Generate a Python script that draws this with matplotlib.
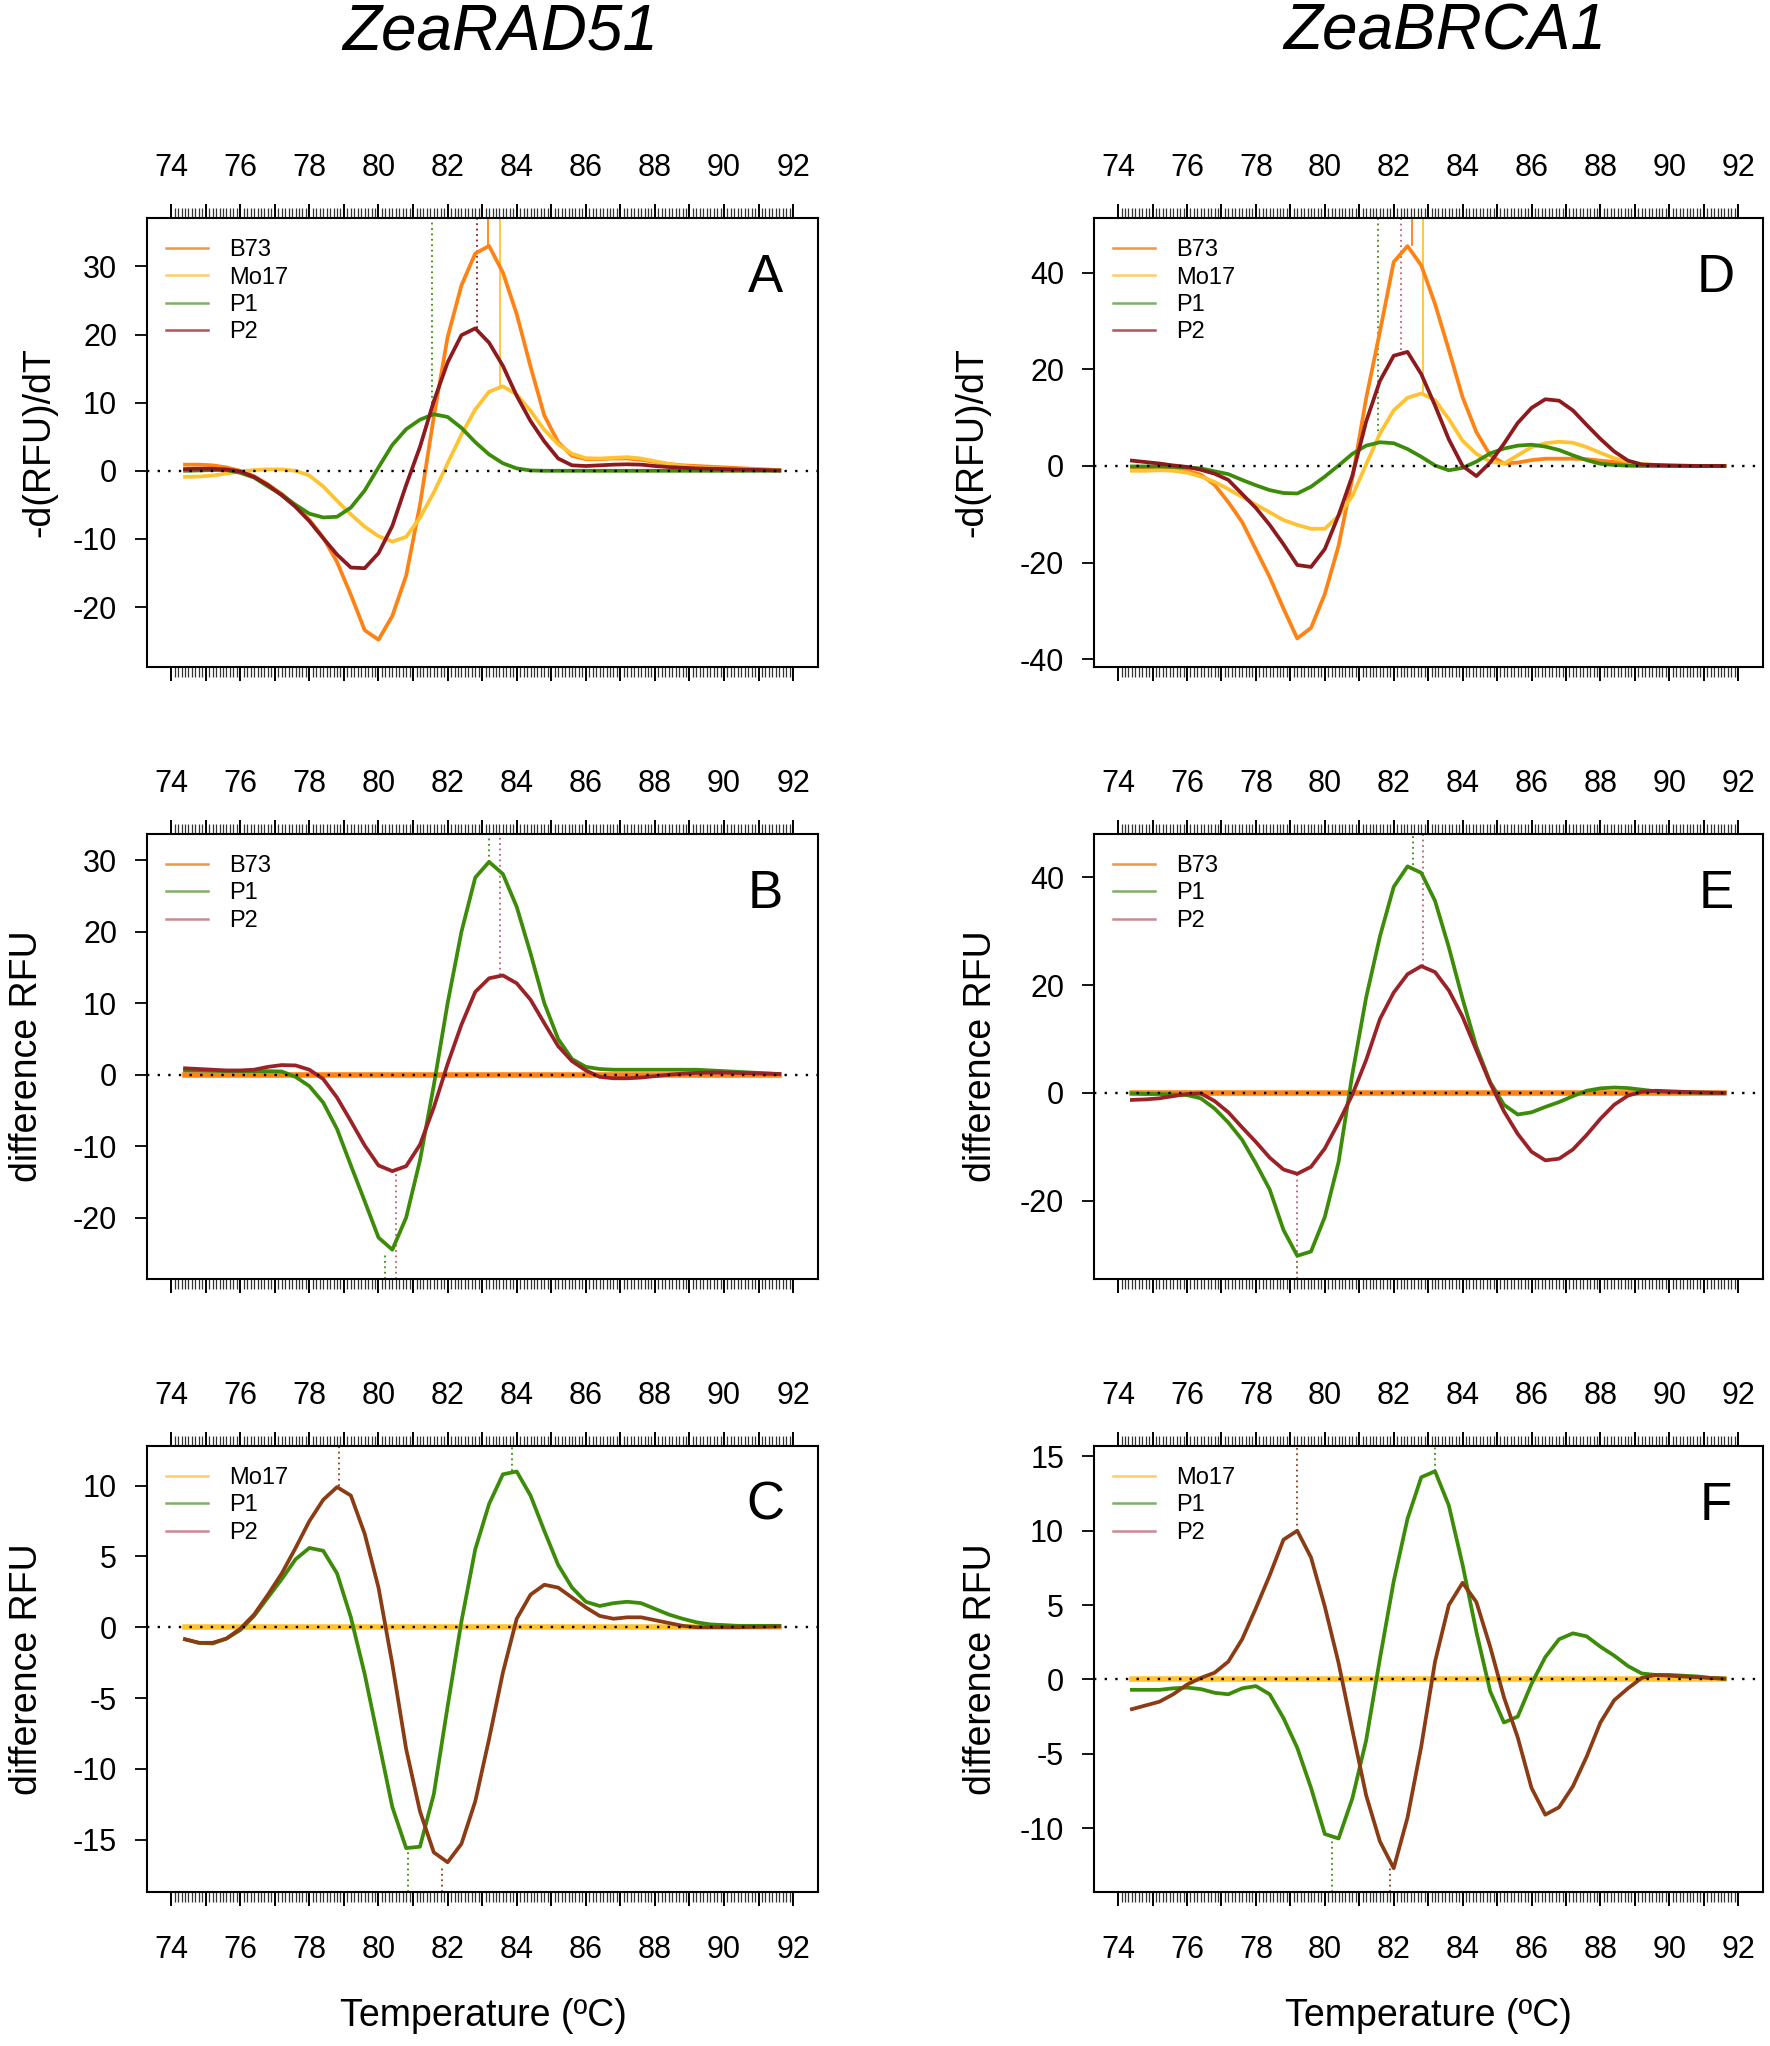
import numpy as np
import matplotlib.pyplot as plt
from matplotlib.lines import Line2D
from matplotlib.ticker import FixedLocator, FuncFormatter

plt.rcParams['font.family'] = ['Liberation Sans', 'DejaVu Sans']
plt.rcParams['axes.unicode_minus'] = False

# temperature grid (ºC)
temp = np.round(np.arange(74.4, 91.65, 0.4), 1)

# ---- ZeaRAD51 ----
# A: -d(RFU)/dT
a_b73 = [0.9, 0.9, 0.8, 0.5, 0.0, -0.8, -2.0, -3.4, -5.2, -7.2, -9.8, -13.4, -18.2, -23.4, -24.8,
         -21.3, -15.4, -5.0, 7.9, 19.6, 27.2, 31.9, 33.0, 29.1, 23.0, 15.3, 8.1, 4.2, 2.2, 1.7,
         1.7, 1.8, 1.8, 1.6, 1.3, 1.0, 0.8, 0.7, 0.6, 0.5, 0.4, 0.3, 0.2, 0.1]
a_mo17 = [-0.9, -0.85, -0.7, -0.4, -0.1, 0.1, 0.2, 0.2, 0.0, -0.7, -2.3, -4.4, -6.4, -8.2, -9.6,
          -10.4, -9.7, -6.9, -3.2, 1.1, 5.3, 9.0, 11.6, 12.4, 11.2, 8.8, 6.0, 3.9, 2.5, 1.85,
          1.8, 1.9, 2.0, 1.8, 1.4, 1.0, 0.7, 0.5, 0.4, 0.3, 0.25, 0.2, 0.15, 0.1]
a_p1 = [0.0, 0.05, 0.1, 0.1, -0.3, -1.0, -2.3, -3.5, -5.0, -6.3, -6.85, -6.75, -5.4, -2.9, 0.5,
        3.8, 6.1, 7.5, 8.3, 7.9, 6.3, 4.2, 2.4, 1.1, 0.35, 0.05, 0.0, 0.0, 0.0, 0.0,
        0.0, 0.0, 0.0, 0.0, 0.0, 0.0, 0.0, 0.0, 0.0, 0.0, 0.0, 0.0, 0.0, 0.0]
a_p2 = [0.25, 0.3, 0.3, 0.2, -0.1, -0.9, -2.1, -3.6, -5.3, -7.4, -9.9, -12.3, -14.2, -14.3, -12.1,
        -8.1, -2.1, 3.5, 10.2, 15.9, 19.9, 20.9, 18.8, 15.4, 11.0, 7.3, 4.3, 1.8, 0.8, 0.7,
        0.8, 0.9, 0.95, 0.9, 0.7, 0.55, 0.45, 0.35, 0.3, 0.25, 0.2, 0.15, 0.1, 0.05]
# B: difference RFU vs B73 (B73 minus itself is flat)
b_b73 = [0.0, 0.0, 0.0, 0.0, 0.0, 0.0, 0.0, 0.0, 0.0, 0.0, 0.0, 0.0, 0.0, 0.0, 0.0,
         0.0, 0.0, 0.0, 0.0, 0.0, 0.0, 0.0, 0.0, 0.0, 0.0, 0.0, 0.0, 0.0, 0.0, 0.0,
         0.0, 0.0, 0.0, 0.0, 0.0, 0.0, 0.0, 0.0, 0.0, 0.0, 0.0, 0.0, 0.0, 0.0]
b_p1 = [0.6, 0.6, 0.55, 0.5, 0.5, 0.5, 0.5, 0.45, -0.3, -1.6, -3.9, -7.6, -12.7, -17.7, -22.8,
        -24.5, -20.0, -12.0, -1.5, 10.0, 20.0, 27.6, 29.8, 28.1, 23.5, 17.0, 10.0, 5.0, 2.2, 1.1,
        0.8, 0.7, 0.7, 0.7, 0.7, 0.7, 0.7, 0.7, 0.6, 0.5, 0.4, 0.3, 0.2, 0.1]
b_p2 = [0.9, 0.8, 0.7, 0.6, 0.6, 0.7, 1.1, 1.35, 1.3, 0.7, -0.6, -3.2, -6.5, -9.9, -12.7,
        -13.5, -12.8, -9.8, -4.6, 1.5, 7.0, 11.6, 13.5, 13.9, 12.8, 10.5, 7.2, 4.0, 1.9, 0.6,
        -0.3, -0.5, -0.5, -0.4, -0.2, 0.0, 0.15, 0.25, 0.3, 0.3, 0.25, 0.2, 0.15, 0.1]
# C: difference RFU vs Mo17
c_mo17 = list(b_b73)
c_p1 = [-0.85, -1.1, -1.15, -0.8, -0.2, 0.8, 2.1, 3.4, 4.8, 5.6, 5.4, 3.8, 0.7, -3.3, -8.0,
        -12.7, -15.6, -15.5, -11.8, -5.6, 0.4, 5.5, 8.7, 10.8, 11.0, 9.3, 6.8, 4.4, 2.8, 1.8,
        1.5, 1.7, 1.8, 1.7, 1.3, 0.9, 0.6, 0.35, 0.2, 0.15, 0.1, 0.1, 0.1, 0.1]
c_p2 = [-0.85, -1.1, -1.1, -0.8, -0.1, 0.9, 2.3, 3.8, 5.6, 7.5, 9.0, 9.9, 9.3, 6.6, 2.8,
        -2.6, -8.6, -13.0, -15.9, -16.6, -15.3, -12.3, -7.9, -3.2, 0.6, 2.3, 3.0, 2.8, 2.1, 1.4,
        0.8, 0.6, 0.7, 0.7, 0.5, 0.3, 0.1, 0.0, 0.0, 0.0, 0.0, 0.02, 0.03, 0.05]

# ---- ZeaBRCA1 ----
d_b73 = [-0.7, -0.6, -0.6, -0.6, -1.0, -1.8, -3.9, -7.5, -11.6, -17.3, -23.0, -29.5, -35.7, -33.5, -26.5,
         -16.5, -2.5, 14.0, 27.8, 42.2, 45.5, 41.5, 33.5, 24.0, 14.2, 7.0, 2.2, 0.5, 0.7, 1.2,
         1.5, 1.5, 1.5, 1.4, 1.1, 0.8, 0.5, 0.2, 0.1, 0.05, 0.0, 0.0, 0.0, 0.0]
d_mo17 = [-1.0, -1.0, -0.9, -1.0, -1.4, -2.2, -3.3, -4.8, -6.4, -8.0, -9.6, -11.2, -12.2, -13.0, -13.0,
          -10.3, -6.2, 0.3, 6.7, 11.5, 14.1, 15.0, 13.6, 9.7, 5.2, 2.5, 0.9, 0.5, 2.2, 3.9,
          4.7, 5.0, 4.8, 3.9, 2.7, 1.6, 0.9, 0.4, 0.2, 0.1, 0.05, 0.0, 0.0, 0.0]
d_p1 = [-0.1, -0.1, -0.1, -0.2, -0.3, -0.5, -1.1, -1.7, -2.9, -4.0, -5.0, -5.6, -5.7, -4.3, -2.2,
        0.1, 2.5, 4.2, 4.9, 4.7, 3.5, 1.9, 0.1, -0.9, -0.4, 0.9, 2.6, 3.6, 4.2, 4.4,
        4.0, 3.3, 2.2, 1.2, 0.45, 0.2, 0.05, 0.0, 0.0, 0.0, 0.0, 0.0, 0.0, 0.0]
d_p2 = [1.1, 0.8, 0.5, 0.1, -0.2, -0.8, -1.6, -2.9, -5.8, -8.7, -12.2, -16.2, -20.5, -20.9, -17.2,
        -10.2, -2.0, 9.2, 17.6, 22.8, 23.6, 19.0, 12.5, 5.5, 0.0, -2.1, 0.7, 4.6, 8.9, 12.0,
        13.8, 13.5, 11.5, 8.5, 5.6, 3.0, 1.1, 0.3, 0.2, 0.1, 0.05, 0.0, 0.0, 0.0]
e_b73 = list(b_b73)
e_p1 = [-0.1, -0.2, -0.2, -0.3, -0.4, -1.0, -2.9, -5.5, -8.7, -13.1, -17.9, -25.4, -30.2, -29.4, -23.0,
        -12.8, 3.5, 17.7, 29.0, 38.2, 42.0, 40.8, 35.6, 27.0, 17.4, 8.6, 2.0, -2.2, -4.0, -3.6,
        -2.6, -1.7, -0.6, 0.4, 0.85, 1.0, 0.9, 0.6, 0.3, 0.15, 0.1, 0.05, 0.0, 0.0]
e_p2 = [-1.3, -1.2, -1.0, -0.6, -0.2, -0.1, -1.5, -3.6, -6.4, -9.1, -12.0, -14.2, -15.0, -13.7, -10.3,
        -5.5, -0.3, 6.1, 13.7, 18.6, 22.0, 23.5, 22.4, 19.0, 14.1, 7.9, 1.8, -3.4, -7.6, -10.9,
        -12.5, -12.2, -10.5, -7.8, -4.8, -2.2, -0.5, 0.2, 0.4, 0.3, 0.2, 0.1, 0.05, 0.0]
f_mo17 = list(b_b73)
f_p1 = [-0.7, -0.7, -0.7, -0.6, -0.55, -0.65, -0.9, -1.0, -0.6, -0.45, -1.0, -2.6, -4.6, -7.3, -10.4,
        -10.7, -8.0, -4.1, 1.4, 6.6, 10.8, 13.6, 14.0, 11.7, 7.7, 3.2, -0.8, -2.9, -2.5, -0.3,
        1.5, 2.7, 3.1, 2.9, 2.2, 1.6, 0.9, 0.4, 0.3, 0.3, 0.25, 0.2, 0.1, 0.05]
f_p2 = [-2.0, -1.75, -1.5, -1.0, -0.35, 0.1, 0.45, 1.2, 2.7, 4.8, 7.0, 9.4, 10.0, 8.2, 4.9,
        1.1, -3.4, -7.8, -10.9, -12.7, -9.3, -4.5, 1.2, 5.0, 6.5, 5.2, 2.2, -1.2, -3.9, -7.3,
        -9.1, -8.6, -7.2, -5.2, -2.9, -1.4, -0.6, 0.1, 0.3, 0.25, 0.2, 0.15, 0.1, 0.05]

# peak markers: (series, temperature, peak value, 'top'/'bottom')
a_peaks = [('P1', 81.55, 8.3, 'top'), ('P2', 82.86, 20.9, 'top'),
           ('B73', 83.16, 33.0, 'top'), ('Mo17', 83.52, 12.4, 'top')]
d_peaks = [('P1', 81.55, 4.9, 'top'), ('P2', 82.2, 24.0, 'top'),
           ('B73', 82.54, 45.5, 'top'), ('Mo17', 82.86, 15.0, 'top')]
b_peaks = [('P1', 83.19, 29.8, 'top'), ('P2', 83.52, 13.9, 'top'),
           ('P1', 80.18, -25.0, 'bottom'), ('P2', 80.52, -13.5, 'bottom')]
e_peaks = [('P1', 82.55, 42.3, 'top'), ('P2', 82.86, 23.5, 'top'),
           ('P1', 79.18, -30.2, 'bottom'), ('P2', 79.18, -15.0, 'bottom')]
c_peaks = [('P2', 78.86, 10.0, 'top'), ('P1', 83.87, 11.0, 'top'),
           ('P1', 80.85, -15.7, 'bottom'), ('P2', 81.85, -16.8, 'bottom')]
f_peaks = [('P2', 79.19, 10.0, 'top'), ('P1', 83.21, 14.0, 'top'),
           ('P1', 80.21, -10.9, 'bottom'), ('P2', 81.88, -12.7, 'bottom')]

# colours
col_b73, col_mo17, col_p1 = '#FF8214', '#FFC332', '#3C8C0A'
col_p2a, col_p2b, col_p2c = '#8C1A1E', '#9B2328', '#8C3C14'
leg_b73, leg_mo17, leg_p1 = '#F39447', '#FFCB6B', '#80AE68'
leg_p2a, leg_p2b = '#B5525A', '#C98B93'

W, H = 1770, 2046
fig = plt.figure(figsize=(W / 100, H / 100), dpi=100)

cols = [(147, 671), (1094, 669)]
rows = [(218, 449), (834, 445), (1446, 446)]
TICK_FS = 22


def make_ax(c, r):
    l, w = cols[c]
    t, h = rows[r]
    return fig.add_axes([l / W, 1 - (t + h) / H, w / W, h / H])


def style_ax(ax, ylim, yticks, bottom_labels):
    ax.set_xlim(73.3, 92.72)
    ax.set_ylim(*ylim)
    ax.xaxis.set_major_locator(FixedLocator(np.arange(74, 93, 1)))
    minors = [v for v in np.round(np.arange(74, 92.01, 0.1), 1) if abs(v - round(v)) > 0.01]
    ax.xaxis.set_minor_locator(FixedLocator(minors))
    ax.xaxis.set_major_formatter(FuncFormatter(
        lambda v, p: f'{int(round(v))}' if int(round(v)) % 2 == 0 else ''))
    ax.tick_params(axis='x', which='major', top=True, bottom=True, labeltop=True,
                   labelbottom=False, direction='out', length=10, width=1.4,
                   labelsize=TICK_FS, pad=15)
    ax.tick_params(axis='x', which='minor', top=True, bottom=True, direction='out',
                   length=7.5, width=0.9, color='#333333')
    ax.set_yticks(yticks)
    ax.tick_params(axis='y', direction='out', length=8.5, width=1.3, labelsize=TICK_FS, pad=13)
    for s in ax.spines.values():
        s.set_linewidth(1.5)
    ax.axhline(0, color='black', lw=1.7, ls=(0, (1, 3.5)), zorder=6)
    if bottom_labels:
        sec = ax.secondary_xaxis('bottom')
        sec.set_xticks(np.arange(74, 93, 2))
        sec.tick_params(length=0, labelsize=TICK_FS, pad=31)
        sec.spines['bottom'].set_visible(False)


def legend(ax, labels, colors):
    handles = [Line2D([0], [0], color=c, lw=1.8) for c in colors]
    ax.legend(handles, labels, loc='upper left', bbox_to_anchor=(0.028, 0.953),
              frameon=False, fontsize=17, handlelength=1.8, handletextpad=0.9,
              labelspacing=0.23, borderaxespad=0, borderpad=0)


def marker(ax, x, y, side, color, ls, lw=1.3):
    lo, hi = ax.get_ylim()
    if side == 'top':
        ax.vlines(x, y, hi, colors=color, linestyles=ls, lw=lw, zorder=1)
    else:
        ax.vlines(x, lo, y, colors=color, linestyles=ls, lw=lw, zorder=1)


def letter(ax, txt, x):
    ax.text(x, 0.866, txt, transform=ax.transAxes, fontsize=38, ha='center', va='center')


dot = (0, (1, 2))
lw_curve = 2.7

# ---- A / D: derivative curves ----
for c, (series, peaks, ylim, yticks, p2_mark, let) in enumerate([
        ((a_b73, a_mo17, a_p1, a_p2), a_peaks, (-28.8, 37.1), [-20, -10, 0, 10, 20, 30], col_p2a, 'A'),
        ((d_b73, d_mo17, d_p1, d_p2), d_peaks, (-41.6, 51.3), [-40, -20, 0, 20, 40], '#C8606C', 'D')]):
    ax = make_ax(c, 0)
    style_ax(ax, ylim, yticks, False)
    mark_style = {'B73': (col_b73, '-'), 'Mo17': (col_mo17, '-'),
                  'P1': (col_p1, dot), 'P2': (p2_mark, dot)}
    for name, x, y, side in peaks:
        marker(ax, x, y, side, *mark_style[name])
    for vals, col in zip(series, (col_b73, col_mo17, col_p1, col_p2a)):
        ax.plot(temp, vals, color=col, lw=lw_curve, zorder=3)
    legend(ax, ['B73', 'Mo17', 'P1', 'P2'], [leg_b73, leg_mo17, leg_p1, leg_p2a])
    letter(ax, let, 0.921 if c == 0 else 0.93)

# ---- B / E: difference vs B73 ----
for c, (series, peaks, ylim, yticks, let) in enumerate([
        ((b_b73, b_p1, b_p2), b_peaks, (-28.6, 33.7), [-20, -10, 0, 10, 20, 30], 'B'),
        ((e_b73, e_p1, e_p2), e_peaks, (-34.5, 48.0), [-20, 0, 20, 40], 'E')]):
    ax = make_ax(c, 1)
    style_ax(ax, ylim, yticks, False)
    for name, x, y, side in peaks:
        marker(ax, x, y, side, col_p1 if name == 'P1' else '#C0606A', dot)
    ax.plot(temp, series[0], color=col_b73, lw=4, zorder=2)
    ax.plot(temp, series[1], color=col_p1, lw=lw_curve, zorder=3)
    ax.plot(temp, series[2], color=col_p2b, lw=lw_curve, zorder=3)
    legend(ax, ['B73', 'P1', 'P2'], [leg_b73, leg_p1, leg_p2b])
    letter(ax, let, 0.921 if c == 0 else 0.93)

# ---- C / F: difference vs Mo17 ----
for c, (series, peaks, ylim, yticks, let) in enumerate([
        ((c_mo17, c_p1, c_p2), c_peaks, (-18.7, 12.8), [-15, -10, -5, 0, 5, 10], 'C'),
        ((f_mo17, f_p1, f_p2), f_peaks, (-14.3, 15.7), [-10, -5, 0, 5, 10, 15], 'F')]):
    ax = make_ax(c, 2)
    style_ax(ax, ylim, yticks, True)
    for name, x, y, side in peaks:
        marker(ax, x, y, side, col_p1 if name == 'P1' else col_p2c, dot)
    ax.plot(temp, series[0], color=col_mo17, lw=4, zorder=2)
    ax.plot(temp, series[1], color=col_p1, lw=lw_curve, zorder=3)
    ax.plot(temp, series[2], color=col_p2c, lw=lw_curve, zorder=3)
    legend(ax, ['Mo17', 'P1', 'P2'], [leg_mo17, leg_p1, leg_p2b])
    letter(ax, let, 0.921 if c == 0 else 0.93)

# titles and axis labels
fig.text(500 / W, 1 - 33 / H, 'ZeaRAD51', fontsize=46, style='italic', ha='center', va='center')
fig.text(1445 / W, 1 - 33 / H, 'ZeaBRCA1', fontsize=46, style='italic', ha='center', va='center')

ylabels = [(39, 0, '-d(RFU)/dT'), (27, 1, 'difference RFU'), (27, 2, 'difference RFU'),
           (972, 0, '-d(RFU)/dT'), (981, 1, 'difference RFU'), (981, 2, 'difference RFU')]
for xpx, r, txt in ylabels:
    t, h = rows[r]
    fig.text(xpx / W, 1 - (t + h / 2) / H, txt, fontsize=27, rotation=90,
             ha='center', va='center')

fig.text(483 / W, 1 - 2016 / H, 'Temperature (ºC)', fontsize=27, ha='center', va='center')
fig.text(1428 / W, 1 - 2016 / H, 'Temperature (ºC)', fontsize=27, ha='center', va='center')

fig.savefig('out.png', dpi=100, facecolor='white')
